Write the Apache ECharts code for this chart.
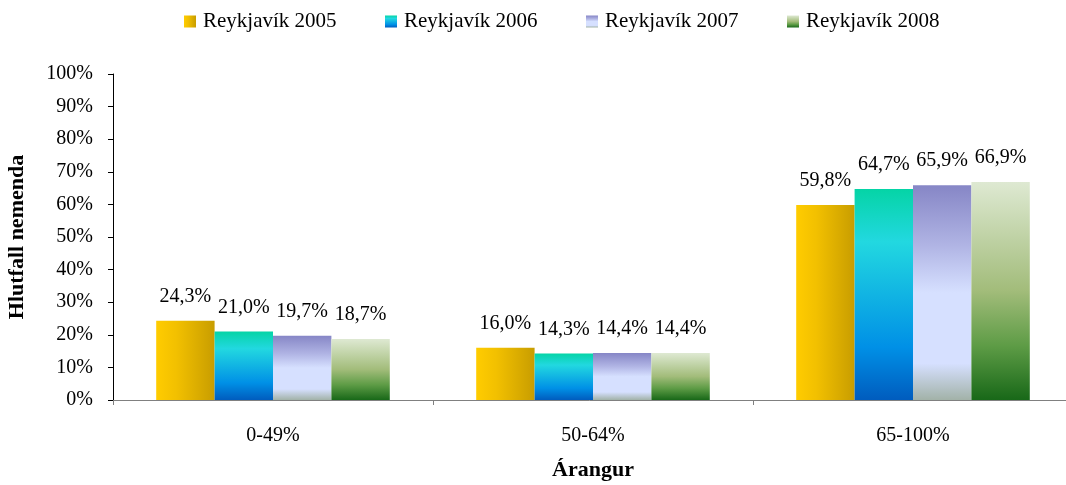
<!DOCTYPE html>
<html>
<head>
<meta charset="utf-8">
<script src="https://cdn.jsdelivr.net/npm/echarts@6/dist/echarts.min.js"></script>
<style>
html,body{margin:0;padding:0;background:#fff;}
#chart{width:1066px;height:485px;}
</style>
</head>
<body>
<div id="chart"></div>
<script>
const categories = ['0-49%', '50-64%', '65-100%'];
const seriesNames = ['Reykjavík 2005', 'Reykjavík 2006', 'Reykjavík 2007', 'Reykjavík 2008'];
const values2005 = [24.3, 16.0, 59.8];
const values2006 = [21.0, 14.3, 64.7];
const values2007 = [19.7, 14.4, 65.9];
const values2008 = [18.7, 14.4, 66.9];
const yTicks = [0, 10, 20, 30, 40, 50, 60, 70, 80, 90, 100];

const FONT = "'Liberation Serif', 'Times New Roman', serif";
const G = echarts.graphic.LinearGradient;
const fills = [
  new G(0, 0, 1, 0, [{offset: 0, color: '#FFCC00'}, {offset: 0.35, color: '#F2C000'}, {offset: 1, color: '#C89D00'}]),
  new G(0, 0, 0, 1, [{offset: 0, color: '#05D4A6'}, {offset: 0.25, color: '#22D8E0'}, {offset: 0.75, color: '#0090E6'}, {offset: 1, color: '#005CBE'}]),
  new G(0, 0, 0, 1, [{offset: 0, color: '#8686C6'}, {offset: 0.28, color: '#B0B4E4'}, {offset: 0.5, color: '#D6E0FF'}, {offset: 0.83, color: '#D6E0FF'}, {offset: 1, color: '#A2B2A8'}]),
  new G(0, 0, 0, 1, [{offset: 0, color: '#DEE9D2'}, {offset: 0.5, color: '#A2BC7A'}, {offset: 0.75, color: '#5E9C46'}, {offset: 1, color: '#186818'}])
];
const allValues = [values2005, values2006, values2007, values2008];

const legendLefts = [184, 385, 586, 787];

const option = {
  animation: false,
  backgroundColor: '#ffffff',
  textStyle: {fontFamily: FONT, color: '#000'},
  legend: seriesNames.map((n, i) => ({
    data: [n],
    left: legendLefts[i],
    top: 11,
    padding: 0,
    itemWidth: 12,
    itemHeight: 12,
    itemGap: 0,
    icon: 'rect',
    textStyle: {fontFamily: FONT, fontSize: 21, color: '#000', padding: [0, 0, 0, 2]},
    selectedMode: false
  })),
  grid: {left: 113, top: 74, right: -7, bottom: 85, containLabel: false, outerBoundsMode: 'none'},
  xAxis: {
    type: 'category',
    data: categories,
    name: 'Árangur',
    nameLocation: 'middle',
    nameGap: 59,
    nameTextStyle: {fontFamily: FONT, fontSize: 22, fontWeight: 'bold', color: '#000'},
    axisLine: {lineStyle: {color: '#808080', width: 1}},
    axisTick: {show: true, alignWithLabel: false, length: 5, lineStyle: {color: '#808080'}},
    axisLabel: {fontFamily: FONT, fontSize: 20, color: '#000', margin: 26},
    splitLine: {show: false}
  },
  yAxis: {
    type: 'value',
    min: yTicks[0],
    max: yTicks[yTicks.length - 1],
    interval: 10,
    name: 'Hlutfall nemenda',
    nameLocation: 'middle',
    nameRotate: 90,
    nameGap: 85,
    nameTextStyle: {fontFamily: FONT, fontSize: 22, fontWeight: 'bold', color: '#000'},
    axisLine: {show: true, lineStyle: {color: '#000', width: 1}},
    axisTick: {show: true, length: 5, lineStyle: {color: '#000'}},
    axisLabel: {fontFamily: FONT, fontSize: 20, color: '#000', margin: 20, formatter: '{value}%'},
    splitLine: {show: false}
  },
  series: seriesNames.map((n, i) => ({
    name: n,
    type: 'bar',
    data: allValues[i],
    barGap: '0%',
    barCategoryGap: '27%',
    itemStyle: {color: fills[i]},
    label: {
      show: true,
      position: 'top',
      distance: 14,
      fontFamily: FONT,
      fontSize: 20,
      color: '#000',
      formatter: p => p.value.toFixed(1).replace('.', ',') + '%'
    }
  }))
};

const chart = echarts.init(document.getElementById('chart'), null, {renderer: 'canvas'});
chart.setOption(option);
</script>
</body>
</html>
